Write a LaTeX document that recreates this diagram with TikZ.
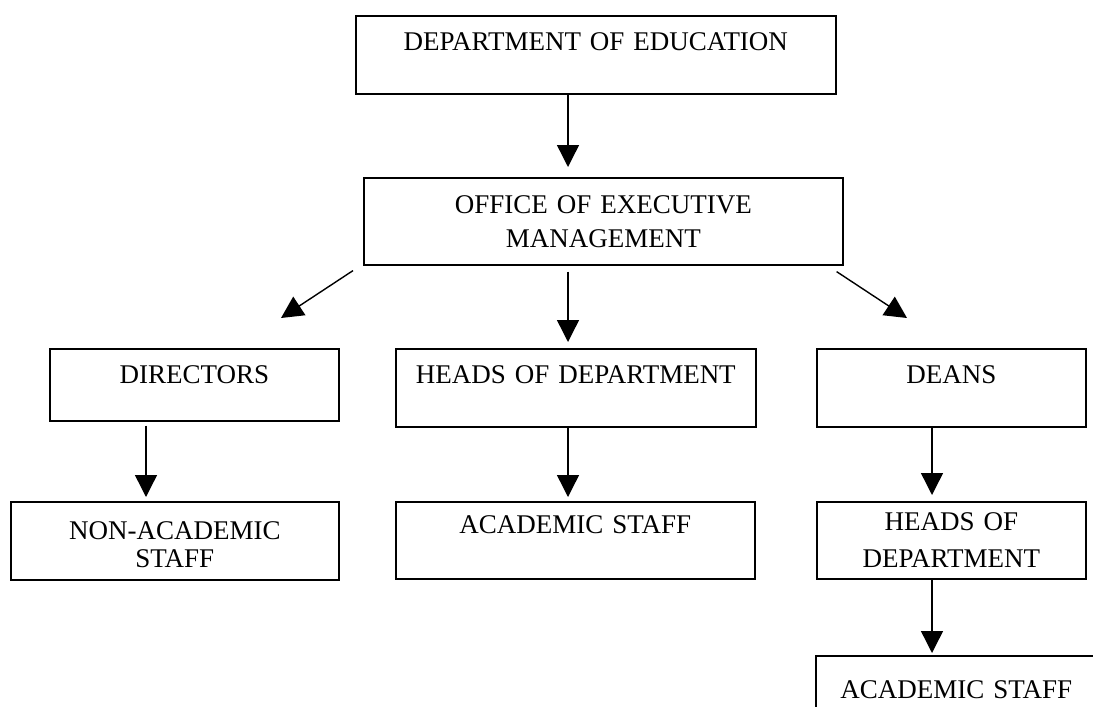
\documentclass[tikz,border=0pt]{standalone}
\usepackage{fontspec}
\setmainfont{Liberation Serif}
\usetikzlibrary{arrows.meta}

\begin{document}
\begin{tikzpicture}[x=0.5pt, y=-0.5pt, line width=0.8pt,
  main/.style = {draw, anchor=north west, align=center, inner xsep=0pt, inner ysep=0pt, font=\fontsize{13.5}{17}\selectfont},
  link/.style = {line width=0.7pt, -{Triangle[length=11pt,width=11pt]}}]
\clip (0,0) rectangle (1093,707);
\node[main, text width=240pt, text height=17.5pt, text depth=21.5pt] (1) at (355,15) {DEPARTMENT OF EDUCATION};
\node[main, text width=239.5pt, text height=18pt, text depth=25.5pt] (2) at (363,177) {OFFICE OF EXECUTIVE\\ MANAGEMENT};
\node[main, text width=144.5pt, text height=17.5pt, text depth=18.5pt] (3) at (49,348) {DIRECTORS};
\node[main, text width=180pt, text height=17.5pt, text depth=21.5pt] (4) at (395,348) {HEADS OF DEPARTMENT};
\node[main, text width=134.5pt, text height=17.5pt, text depth=21.5pt] (5) at (816,348) {DEANS};
\node[main, text width=164pt, text height=19pt, text depth=20pt, font=\fontsize{13.5}{14}\selectfont] (6) at (10,501) {NON-ACADEMIC\\ STAFF};
\node[main, text width=179.5pt, text height=16pt, text depth=22.5pt] (7) at (395,501) {ACADEMIC STAFF};
\node[main, text width=134.5pt, text height=14.5pt, text depth=24pt, font=\fontsize{13.5}{18.5}\selectfont] (8) at (816,501) {HEADS OF\\ DEPARTMENT};
\node[main, text width=140.5pt, text height=21.5pt, text depth=20pt] (9) at (815,655) {ACADEMIC STAFF};
\coordinate (x1) at (568,0);
\coordinate (x2) at (146,0);
\coordinate (x3) at (932,0);
\coordinate (d1) at (281,318);
\coordinate (d2) at (907,318);
\draw[link, shorten >=5pt] (1.south -| x1) -- (2.north -| x1);
\draw[link, shorten <=3pt, shorten >=3pt] (2.south -| x1) -- (4.north -| x1);
\draw[link] ([xshift=-5pt, yshift=-2.5pt]2.south west) -- (d1);
\draw[link] ([xshift=-3.5pt, yshift=-3pt]2.south east) -- (d2);
\draw[link, shorten <=2pt, shorten >=2pt] (3.south -| x2) -- (6.north -| x2);
\draw[link, shorten >=2pt] (4.south -| x1) -- (7.north -| x1);
\draw[link, shorten >=3pt] (5.south -| x3) -- (8.north -| x3);
\draw[link, shorten >=1pt] (8.south -| x3) -- (9.north -| x3);
\end{tikzpicture}
\end{document}
